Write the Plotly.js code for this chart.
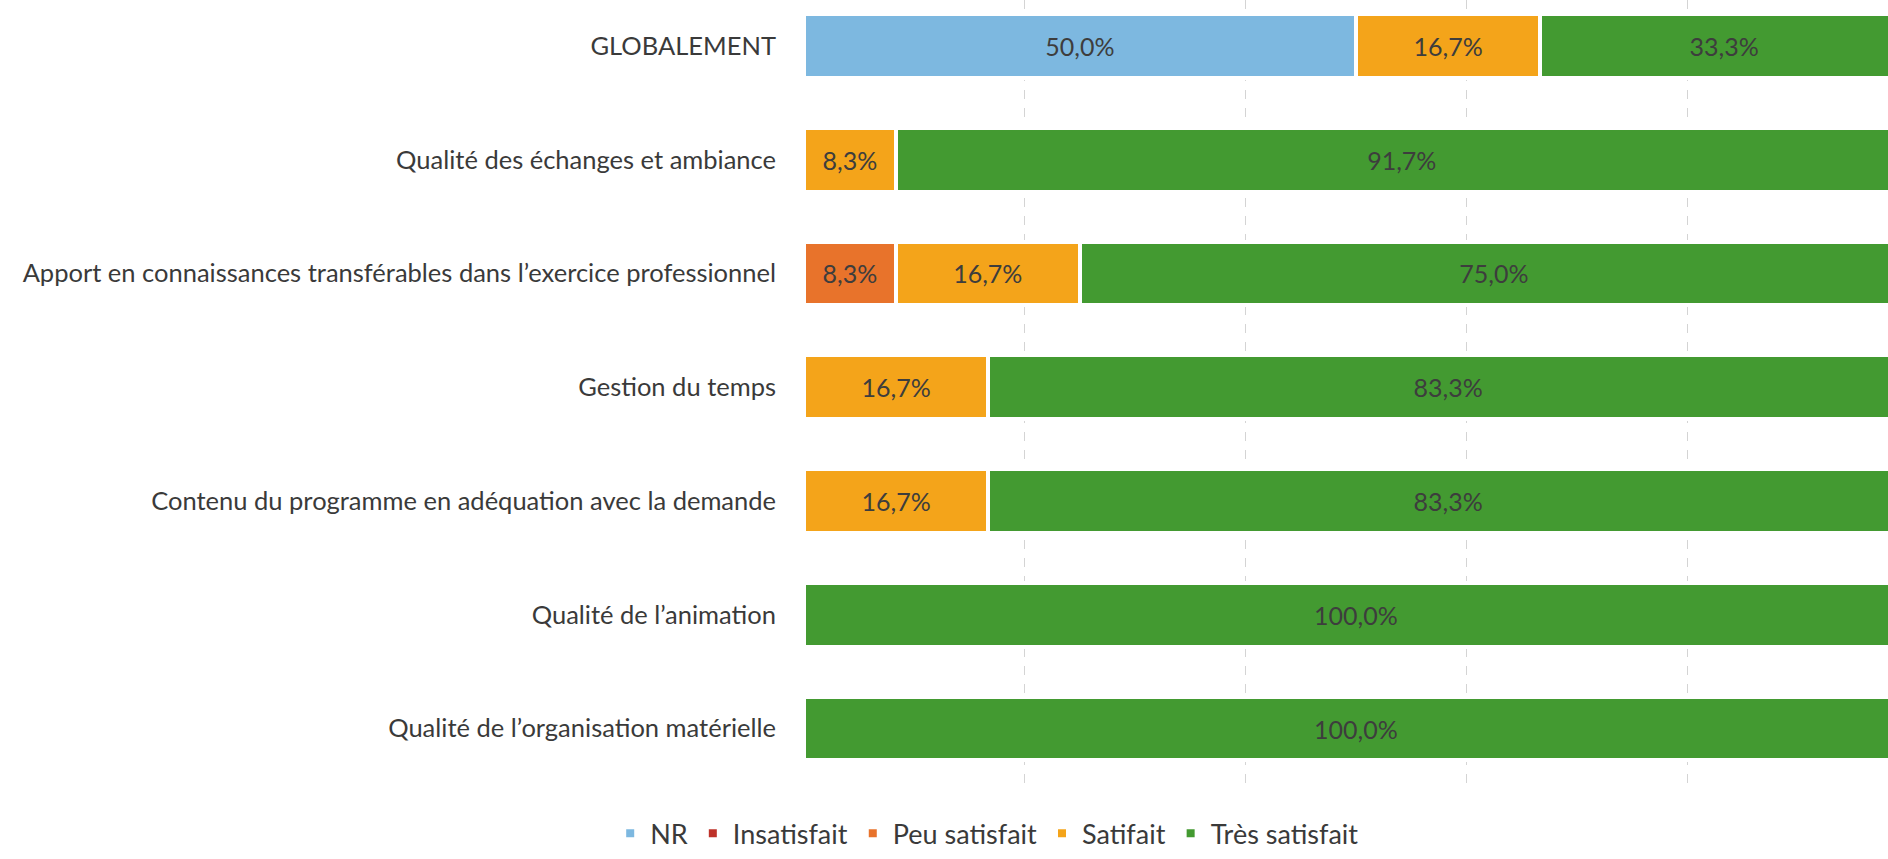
<!DOCTYPE html>
<html>
<head>
<meta charset="utf-8">
<script src="https://cdn.plot.ly/plotly-3.0.1.min.js"></script>
<style>html,body{margin:0;padding:0;background:#fff;}#chart{width:1888px;height:859px;}</style>
</head>
<body>
<div id="chart"></div>
<script>
const categories = [
  "GLOBALEMENT",
  "Qualité des échanges et ambiance",
  "Apport en connaissances transférables dans l’exercice professionnel",
  "Gestion du temps",
  "Contenu du programme en adéquation avec la demande",
  "Qualité de l’animation",
  "Qualité de l’organisation matérielle"
];
const seriesNames = ["NR", "Insatisfait", "Peu satisfait", "Satifait", "Très satisfait"];
const nr           = [50.0, 0, 0, 0, 0, 0, 0];
const insatisfait  = [0, 0, 0, 0, 0, 0, 0];
const peuSatisfait = [0, 0, 8.3, 0, 0, 0, 0];
const satifait     = [16.7, 8.3, 16.7, 16.7, 16.7, 0, 0];
const tresSatisfait= [33.3, 91.7, 75.0, 83.3, 83.3, 100.0, 100.0];
const colors = ["#7DB8E0", "#BE3229", "#E8732B", "#F4A41A", "#439A31"];

const allSeries = [nr, insatisfait, peuSatisfait, satifait, tresSatisfait];
const fmt = v => v > 0 ? v.toFixed(1).replace(".", ",") + "%" : "";

const traces = allSeries.map((vals, i) => ({
  type: "bar",
  orientation: "h",
  name: seriesNames[i],
  y: categories,
  x: vals.map(v => v / 100),
  text: vals.map(fmt),
  textposition: "inside",
  insidetextanchor: "middle",
  constraintext: "none",
  textfont: {family: "Lato, sans-serif", size: 25, color: "#3d3d3d"},
  marker: {color: colors[i], line: {color: "#ffffff", width: 4}},
  hoverinfo: "skip"
}));

const layout = {
  width: 1888,
  height: 859,
  barmode: "stack",
  bargap: 0.44,
  paper_bgcolor: "#ffffff",
  plot_bgcolor: "#ffffff",
  margin: {l: 804, r: 0, t: 0, b: 72, pad: 0, autoexpand: false},
  font: {family: "Lato, sans-serif", size: 25, color: "#3a3a3a"},
  xaxis: {
    range: [0, 0.982],
    tick0: 0, dtick: 0.2,
    showticklabels: false,
    showgrid: true,
    gridcolor: "#d4d4d4",
    griddash: "dash",
    gridwidth: 1,
    zeroline: false,
    showline: false,
    ticks: ""
  },
  yaxis: {
    type: "category",
    categoryorder: "array",
    categoryarray: categories,
    range: [6.514, -0.404],
    showgrid: false,
    zeroline: false,
    showline: false,
    ticks: "",
    ticklabelstandoff: 27,
    tickfont: {family: "Lato, sans-serif", size: 25.5, color: "#3a3a3a"}
  },
  showlegend: true,
  legend: {
    orientation: "h",
    x: 0.169,
    xanchor: "center",
    y: -0.0905,
    yanchor: "bottom",
    font: {family: "Lato, sans-serif", size: 27, color: "#3a3a3a"},
    traceorder: "normal",
    itemwidth: 30
  }
};

Plotly.newPlot("chart", traces, layout, {displayModeBar: false, staticPlot: true});
</script>
</body>
</html>
